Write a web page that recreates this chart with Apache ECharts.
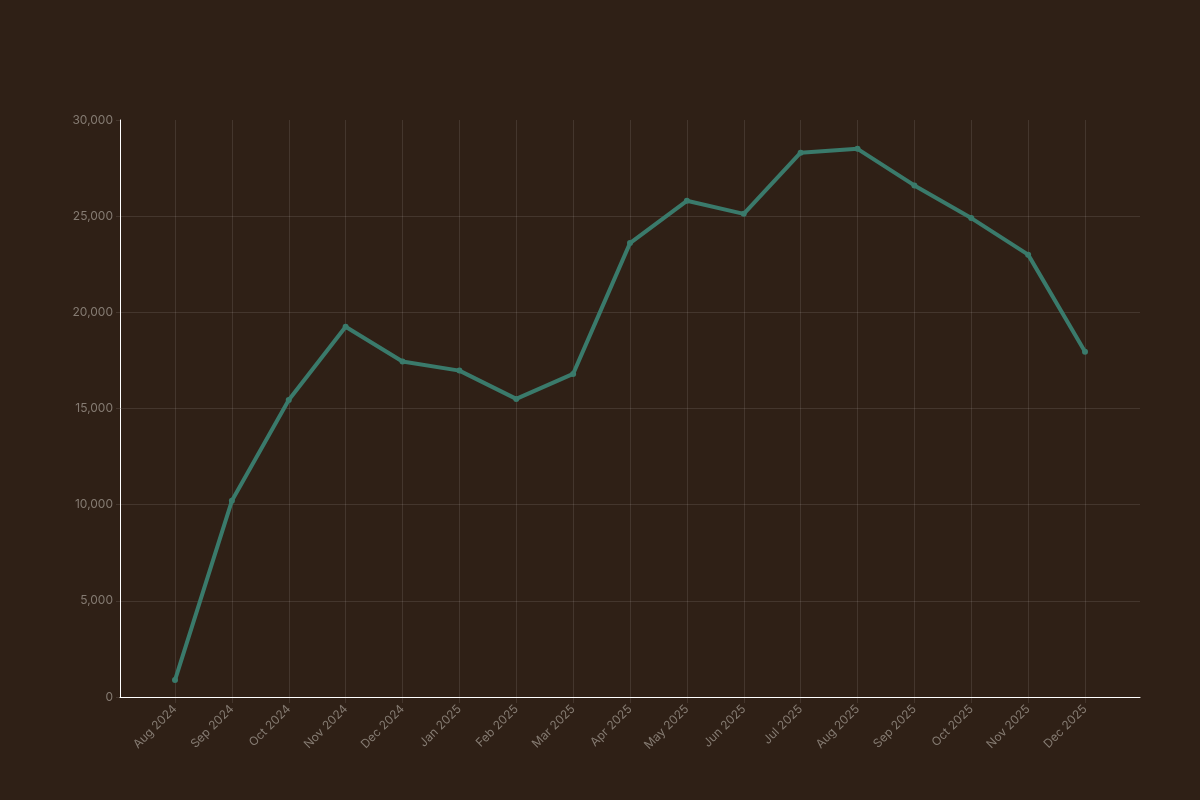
<!DOCTYPE html>
<html>
<head>
<meta charset="utf-8">
<script src="https://cdn.jsdelivr.net/npm/echarts@6/dist/echarts.min.js"></script>
<style>
  html, body { margin: 0; padding: 0; background: #2f2016; }
  #chart { width: 1200px; height: 800px; }
</style>
</head>
<body>
<div id="chart"></div>
<script>
// 月份
var months = ["Aug 2024", "Sep 2024", "Oct 2024", "Nov 2024", "Dec 2024", "Jan 2025",
  "Feb 2025", "Mar 2025", "Apr 2025", "May 2025", "Jun 2025", "Jul 2025",
  "Aug 2025", "Sep 2025", "Oct 2025", "Nov 2025", "Dec 2025"];
var values = [880, 10200, 15440, 19250, 17440, 16970, 15500, 16800, 23600, 25800,
  25120, 28300, 28500, 26600, 24900, 23000, 17950];
var yTicks = [0, 5000, 10000, 15000, 20000, 25000, 30000];

var labelColor = "#857b72";
var gridColor = "rgba(255, 255, 255, 0.1)";
var font = "Inter, 'Liberation Sans', sans-serif";

var chart = echarts.init(document.getElementById("chart"));
var option = {
  backgroundColor: "#2f2016",
  animation: false,
  grid: [
    // 外框：y轴和横向分割线
    { left: 120, right: 60, top: 120, bottom: 103 },
    // 数据区：左右各留一格
    { left: 175, right: 115, top: 120, bottom: 103 }
  ],
  xAxis: [
    {
      gridIndex: 0, type: "value", min: 0, max: 1,
      axisLine: { show: true, lineStyle: { color: "#ffffff", width: 1 } },
      axisTick: { show: false }, axisLabel: { show: false }, splitLine: { show: false }
    },
    {
      gridIndex: 1, type: "category", data: months, boundaryGap: false,
      axisLine: { show: false },
      axisTick: { show: true, length: 6, lineStyle: { color: gridColor } },
      axisLabel: {
        interval: 0, rotate: 45, color: labelColor, fontSize: 12,
        fontFamily: font, margin: 10
      },
      splitLine: { show: true, lineStyle: { color: gridColor, width: 1 } }
    }
  ],
  yAxis: [
    {
      gridIndex: 0, type: "value", min: yTicks[0], max: yTicks[yTicks.length - 1], interval: 5000,
      axisLine: { show: true, lineStyle: { color: "#ffffff", width: 1 } },
      axisTick: { show: true, length: 4, lineStyle: { color: gridColor } },
      axisLabel: {
        color: labelColor, fontSize: 12, fontFamily: font, margin: 7,
        formatter: function (v) { return v.toLocaleString("en-US"); }
      },
      splitLine: { show: true, showMaxLine: false, lineStyle: { color: gridColor, width: 1 } }
    },
    {
      gridIndex: 1, type: "value", min: 0, max: 30000, show: false,
      splitLine: { show: false }
    }
  ],
  series: [
    {
      type: "line", xAxisIndex: 1, yAxisIndex: 1, data: values,
      symbol: "circle", symbolSize: 6, showSymbol: true,
      lineStyle: { color: "#3a7a6b", width: 4 },
      itemStyle: { color: "#3a7a6b" }
    }
  ]
};
chart.setOption(option);
</script>
</body>
</html>
